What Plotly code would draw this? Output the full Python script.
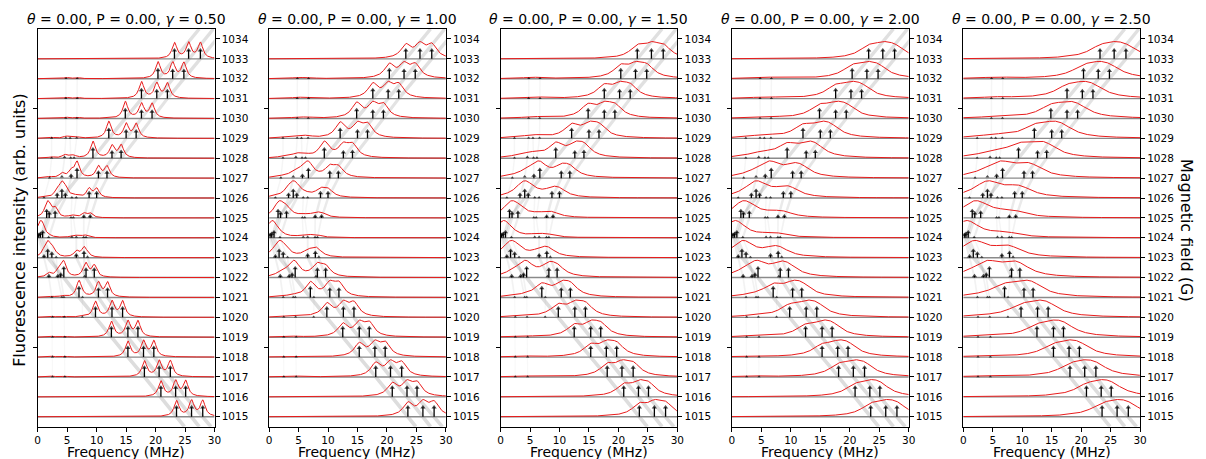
import numpy as np
import plotly.graph_objects as go

# ---------------- data ----------------
FIELDS = list(range(1015, 1034))          # rows carrying a spectrum (G)
FIELD_TICKS = list(range(1015, 1035))     # right-hand tick labels
LEFT_TICKS = [1018.5, 1022.5, 1026.5, 1030.5]
FIELD_LOW, FIELD_HIGH = 1014.5, 1034.5
FREQ_TICKS = [0, 5, 10, 15, 20, 25, 30]
GAMMAS = [0.50, 1.00, 1.50, 2.00, 2.50]
THETA = 0.00
POL = 0.00

N = None
# transition branches: frequency (MHz) and relative intensity per field row
A_F = [23.55, 20.9, 18.1, 15.3, 12.5, 9.8, 7.0, 4.43, 1.7, 0.45, 1.52, 4.1, 6.67, 9.37, 12.06, 14.86, 17.6, 20.4, 23.2]
A_I = [1.00, 1.00, 1.00, 1.00, 0.98, 0.97, 1.00, 1.00, 0.79, 0.53, 0.79, 0.82, 0.91, 0.96, 0.93, 0.91, 0.93, 0.93, 0.93]
B_F = [26.1, 23.4, 20.6, 17.95, 15.3, 12.6, 10.3, 8.2, 6.55, 6.55, 6.05, 6.55, N, 6.17, 6.62, 6.65, 6.7, 6.7, N]
B_I = [1.00, 1.00, 1.00, 1.00, 0.98, 0.97, 0.88, 0.88, 0.39, 0.12, 0.09, 0.09, N, 0.10, 0.09, 0.07, 0.07, 0.07, N]
C_F = [28.0, 25.1, 22.5, 19.7, 17.0, 14.4, 11.85, 9.6, 8.45, 8.2, 8.9, 10.0, 11.75, 14.15, 16.7, 19.4, 22.0, 24.8, 27.6]
C_I = [1.00, 1.00, 1.00, 1.00, 0.98, 0.97, 0.88, 0.88, 0.14, 0.11, 0.32, 0.61, 0.67, 0.74, 0.79, 0.79, 0.84, 0.88, 0.93]
D_F = [N, N, N, N, N, 7.57, 7.6, 7.95, 7.85, 7.8, 7.82, 8.72, 10.3, 12.6, 15.0, 17.6, 20.2, 22.9, 25.6]
D_I = [N, N, N, N, N, 0.05, 0.05, 0.21, 0.61, 0.11, 0.30, 0.61, 0.67, 0.70, 0.79, 0.79, 0.84, 0.88, 0.93]
E_F = [N, N, 4.6, 4.6, 4.6, 4.5, 4.45, 3.9, 2.4, 0.84, 1.95, 3.3, 4.1, 4.55, 4.77, 4.77, 4.77, 4.8, N]
E_I = [N, N, 0.05, 0.05, 0.05, 0.05, 0.05, 0.44, 0.53, 0.67, 0.58, 0.47, 0.26, 0.18, 0.09, 0.07, 0.07, 0.07, N]
F_F = [N, N, 2.5, 2.5, 2.5, 2.5, 2.4, 1.9, 1.07, 0.17, N, 1.07, 2.0, 2.36, 2.36, N, N, N, N]
F_I = [N, N, 0.05, 0.05, 0.05, 0.05, 0.05, 0.30, 0.30, 0.44, N, 0.07, 0.07, 0.07, 0.05, N, N, N, N]
G_F = [N, N, N, N, N, N, 4.1, 3.42, 3.14, 1.85, 2.95, 4.7, 5.66, 5.6, 5.5, N, N, N, N]
G_I = [N, N, N, N, N, N, 0.05, 0.30, 0.10, 0.09, 0.65, 0.47, 0.39, 0.10, 0.07, N, N, N, N]
H_F = [N, N, N, N, N, N, N, N, N, 5.8, 5.65, 5.8, N, N, N, N, N, N, N]
H_I = [N, N, N, N, N, N, N, N, N, 0.12, 0.09, 0.09, N, N, N, N, N, N, N]

# where the trajectories meet the bottom / top of the panels (MHz)
ENDS_LOW = {"A": 24.9, "B": 27.4, "C": 29.4}
ENDS_HIGH = {"A": 27.4, "C": 31.8, "D": 29.8}

BRANCHES = {"A": (A_F, A_I), "B": (B_F, B_I), "C": (C_F, C_I), "D": (D_F, D_I),
            "E": (E_F, E_I), "F": (F_F, F_I), "G": (G_F, G_I), "H": (H_F, H_I)}

# ---------------- styling / layout constants ----------------
W, H = 1206, 459
PANEL_LEFT = [35.0, 268.3, 501.7, 735.0, 968.3]
PANEL_W = 178.3
TOP, BOTTOM = 29.0, 426.7
STICK_SCALE = 0.57      # row units for intensity 1
CURVE_HEIGHT = 0.87     # row units for the normalised spectrum maximum
FONT = "DejaVu Sans"

fig = go.Figure()
fgrid = np.linspace(0, 30, 901)

for k, gamma in enumerate(GAMMAS):
    xa, ya = f"x{k+1}", f"y{k+1}"

    # ---- gray trajectories, grouped by intensity level ----
    levels = {}
    for name, (fr, it) in BRANCHES.items():
        pts = []
        if name in ENDS_LOW:
            pts.append((FIELD_LOW, ENDS_LOW[name], it[0]))
        for b, f, i in zip(FIELDS, fr, it):
            pts.append((b, f, i) if f is not None else None)
        if name in ENDS_HIGH:
            pts.append((FIELD_HIGH, ENDS_HIGH[name], it[-1]))
        run_lvl, run = None, []
        def flush():
            if run_lvl is not None and len(run) > 1:
                xs, ys = levels.setdefault(run_lvl, ([], []))
                xs.extend([p[1] for p in run] + [None])
                ys.extend([p[0] for p in run] + [None])
        for p, q in zip(pts[:-1], pts[1:]):
            if p is None or q is None:
                flush(); run_lvl, run = None, []
                continue
            lvl = int(round((p[2] + q[2]) / 2 * 10))
            if lvl != run_lvl:
                flush(); run_lvl, run = lvl, [p, q]
            else:
                run.append(q)
        flush()
    for lvl, (xs, ys) in sorted(levels.items()):
        inten = lvl / 10
        alpha = 0.045 + 0.16 * inten
        fig.add_trace(go.Scatter(x=xs, y=ys, mode="lines", xaxis=xa, yaxis=ya,
                                 line=dict(color=f"rgba(90,90,90,{alpha:.3f})", width=1.2 + 2.4 * inten),
                                 hoverinfo="skip", showlegend=False))

    # ---- baselines ----
    bx, by = [], []
    for b in FIELDS:
        bx += [0, 30, None]; by += [b, b, None]
    fig.add_trace(go.Scatter(x=bx, y=by, mode="lines", xaxis=xa, yaxis=ya,
                             line=dict(color="#8a8a8a", width=1.4), hoverinfo="skip", showlegend=False))

    # ---- red Lorentzian spectra ----
    rx, ry = [], []
    sx, sy, hx, hy, hs = [], [], [], [], []
    for r, b in enumerate(FIELDS):
        spec = np.zeros_like(fgrid)
        for name, (fr, it) in BRANCHES.items():
            f, i = fr[r], it[r]
            if f is None or i is None:
                continue
            spec += i * gamma**2 / ((fgrid - f) ** 2 + gamma**2)
            h = i * STICK_SCALE
            if h > 0.16:
                sx += [f, f, None]; sy += [b, b + h - 0.09, None]
                hx.append(f); hy.append(b + h - 0.1); hs.append(4.6)
            else:
                hx.append(f); hy.append(b + max(h, 0.04) * 0.5); hs.append(2.6 + 6 * h)
        spec = spec / spec.max() * CURVE_HEIGHT
        rx += list(fgrid) + [None]; ry += list(b + spec) + [None]
    fig.add_trace(go.Scatter(x=rx, y=ry, mode="lines", xaxis=xa, yaxis=ya,
                             line=dict(color="rgb(232,28,28)", width=1.0), hoverinfo="skip", showlegend=False))
    fig.add_trace(go.Scatter(x=sx, y=sy, mode="lines", xaxis=xa, yaxis=ya,
                             line=dict(color="black", width=1.3), hoverinfo="skip", showlegend=False))
    fig.add_trace(go.Scatter(x=hx, y=hy, mode="markers", xaxis=xa, yaxis=ya,
                             marker=dict(symbol="triangle-up", size=hs, color="black", line=dict(width=0)),
                             hoverinfo="skip", showlegend=False))

    l = PANEL_LEFT[k]
    dom_x = [l / W, (l + PANEL_W) / W]
    dom_y = [1 - BOTTOM / H, 1 - TOP / H]
    axis_common = dict(showline=True, mirror=True, linecolor="black", linewidth=1,
                       showgrid=False, zeroline=False, ticks="outside", ticklen=4,
                       tickwidth=1, tickcolor="black",
                       tickfont=dict(family=FONT, size=10.5, color="black"))
    fig.layout[f"xaxis{k+1}"] = dict(domain=dom_x, range=[0, 30], anchor=ya,
                                     tickvals=FREQ_TICKS, **axis_common)
    fig.layout[f"yaxis{k+1}"] = dict(domain=dom_y, range=[FIELD_LOW, FIELD_HIGH], anchor=xa,
                                     side="right", tickvals=FIELD_TICKS, **axis_common)
    fig.layout[f"yaxis{k+6}"] = dict(overlaying=ya, anchor=xa, side="left",
                                     range=[FIELD_LOW, FIELD_HIGH], tickvals=LEFT_TICKS,
                                     showticklabels=False, ticks="outside", ticklen=4,
                                     tickcolor="black", showline=False, showgrid=False, zeroline=False)

    cx = (l + PANEL_W / 2) / W
    fig.add_annotation(xref="paper", yref="paper", x=cx, y=1 - 18.5 / H, xanchor="center", yanchor="middle",
                       text=f"<i>θ</i> = {THETA:.2f}, P = {POL:.2f}, <i>γ</i> = {gamma:.2f}",
                       showarrow=False, font=dict(family=FONT, size=14, color="black"))
    fig.add_annotation(xref="paper", yref="paper", x=cx, y=1 - 452 / H, xanchor="center", yanchor="middle",
                       text="Frequency (MHz)", showarrow=False, font=dict(family=FONT, size=14, color="black"))
    # invisible anchor trace so the overlay axis is drawn
    fig.add_trace(go.Scatter(x=[None], y=[None], xaxis=xa, yaxis=f"y{k+6}", showlegend=False, hoverinfo="skip"))

fig.add_annotation(xref="paper", yref="paper", x=17 / W, y=1 - 230 / H, xanchor="center", yanchor="middle",
                   text="Fluorescence intensity (arb. units)", textangle=-90, showarrow=False,
                   font=dict(family=FONT, size=16, color="black"))
fig.add_annotation(xref="paper", yref="paper", x=1193 / W, y=1 - 230 / H, xanchor="center", yanchor="middle",
                   text="Magnetic field (G)", textangle=90, showarrow=False,
                   font=dict(family=FONT, size=16, color="black"))

fig.update_layout(width=W, height=H, margin=dict(l=0, r=0, t=0, b=0),
                  paper_bgcolor="white", plot_bgcolor="white", showlegend=False,
                  font=dict(family=FONT, color="black"))
fig.write_html("out.html")
